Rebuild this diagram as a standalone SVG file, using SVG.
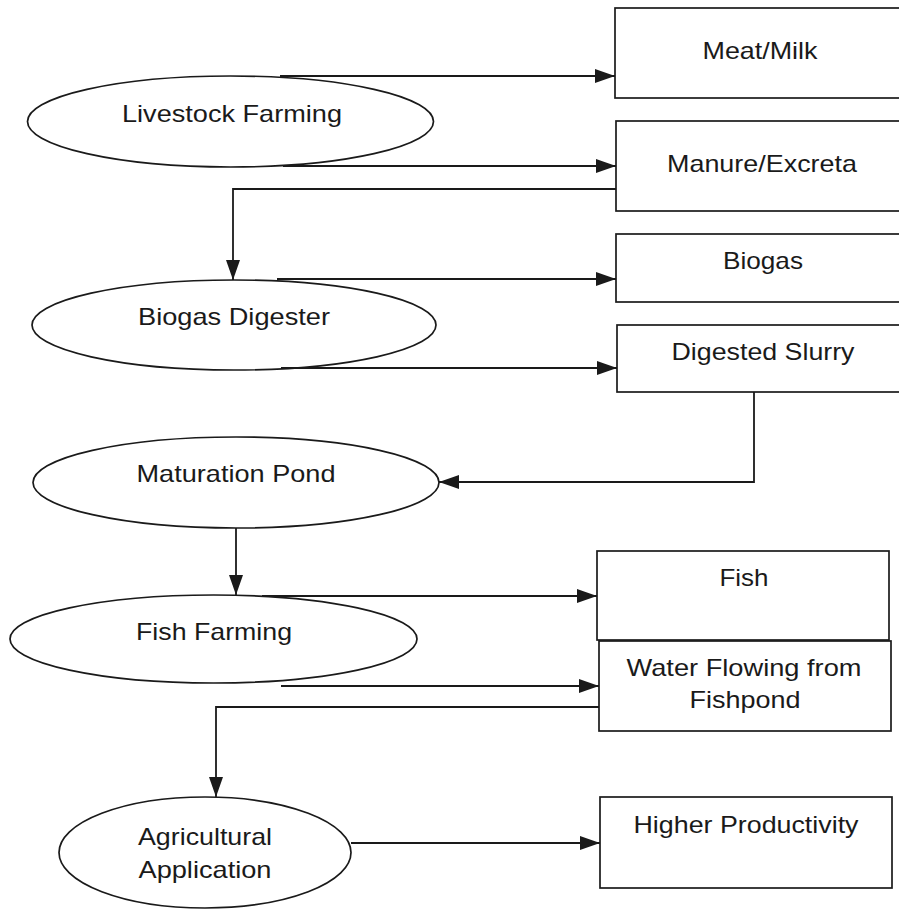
<svg xmlns="http://www.w3.org/2000/svg" width="899" height="909" viewBox="0 0 899 909">
<style>
.n{fill:#fff;stroke:#1a1a1a;stroke-width:1.7}
.t{font-family:"Liberation Sans",Arial,sans-serif;font-size:24px;fill:#1a1a1a;text-anchor:middle}
.c{fill:none;stroke:#1a1a1a;stroke-width:1.8}
</style>
<defs>
<marker id="ah" markerUnits="userSpaceOnUse" markerWidth="21" markerHeight="15" refX="20" refY="7" orient="auto">
<path d="M0,0 L20,7 L0,14 z" fill="#1a1a1a"/>
</marker>
</defs>
<rect width="899" height="909" fill="#fff"/>
<g id="livestock"><ellipse class="n" cx="230.5" cy="121.5" rx="203" ry="45.5"/><text class="t" x="232" y="122" textLength="220" lengthAdjust="spacingAndGlyphs">Livestock Farming</text></g>
<g id="biogas-digester"><ellipse class="n" cx="234" cy="325" rx="202" ry="45"/><text class="t" x="234" y="325" textLength="192" lengthAdjust="spacingAndGlyphs">Biogas Digester</text></g>
<g id="maturation"><ellipse class="n" cx="236" cy="482.5" rx="203" ry="45.5"/><text class="t" x="236" y="482" textLength="199" lengthAdjust="spacingAndGlyphs">Maturation Pond</text></g>
<g id="fish-farming"><ellipse class="n" cx="213.5" cy="639" rx="203.5" ry="44"/><text class="t" x="214" y="640" textLength="156" lengthAdjust="spacingAndGlyphs">Fish Farming</text></g>
<g id="agricultural"><ellipse class="n" cx="205" cy="852.5" rx="146" ry="55.5"/><text class="t" x="205" y="845" textLength="134" lengthAdjust="spacingAndGlyphs">Agricultural</text><text class="t" x="205" y="878" textLength="133" lengthAdjust="spacingAndGlyphs">Application</text></g>
<g id="meat-milk"><rect class="n" x="615" y="8" width="290" height="90"/><text class="t" x="760" y="59" textLength="115" lengthAdjust="spacingAndGlyphs">Meat/Milk</text></g>
<g id="manure"><rect class="n" x="616" y="121" width="290" height="90"/><text class="t" x="762" y="172" textLength="190" lengthAdjust="spacingAndGlyphs">Manure/Excreta</text></g>
<g id="biogas"><rect class="n" x="616" y="234" width="290" height="68"/><text class="t" x="763" y="269" textLength="80" lengthAdjust="spacingAndGlyphs">Biogas</text></g>
<g id="slurry"><rect class="n" x="617" y="325" width="290" height="67"/><text class="t" x="763" y="360" textLength="183" lengthAdjust="spacingAndGlyphs">Digested Slurry</text></g>
<g id="fish"><rect class="n" x="597" y="551" width="292" height="89"/><text class="t" x="744" y="586" textLength="49" lengthAdjust="spacingAndGlyphs">Fish</text></g>
<g id="water"><rect class="n" x="599" y="641" width="292" height="90"/><text class="t" x="744" y="676" textLength="235" lengthAdjust="spacingAndGlyphs">Water Flowing from</text><text class="t" x="745" y="708" textLength="111" lengthAdjust="spacingAndGlyphs">Fishpond</text></g>
<g id="higher"><rect class="n" x="600" y="797" width="292" height="91"/><text class="t" x="746" y="833" textLength="225" lengthAdjust="spacingAndGlyphs">Higher Productivity</text></g>
<g id="connectors">
<path class="c" d="M280,76 H615" marker-end="url(#ah)"/>
<path class="c" d="M283,166 H616" marker-end="url(#ah)"/>
<path class="c" d="M616,189 H233 V280" marker-end="url(#ah)"/>
<path class="c" d="M277,279 H616" marker-end="url(#ah)"/>
<path class="c" d="M281,368 H617" marker-end="url(#ah)"/>
<path class="c" d="M754,392 V482 H439" marker-end="url(#ah)"/>
<path class="c" d="M236,528 V595" marker-end="url(#ah)"/>
<path class="c" d="M262,596 H597" marker-end="url(#ah)"/>
<path class="c" d="M281,686 H599" marker-end="url(#ah)"/>
<path class="c" d="M599,707 H216 V797" marker-end="url(#ah)"/>
<path class="c" d="M351,843 H600" marker-end="url(#ah)"/>
</g>
</svg>
